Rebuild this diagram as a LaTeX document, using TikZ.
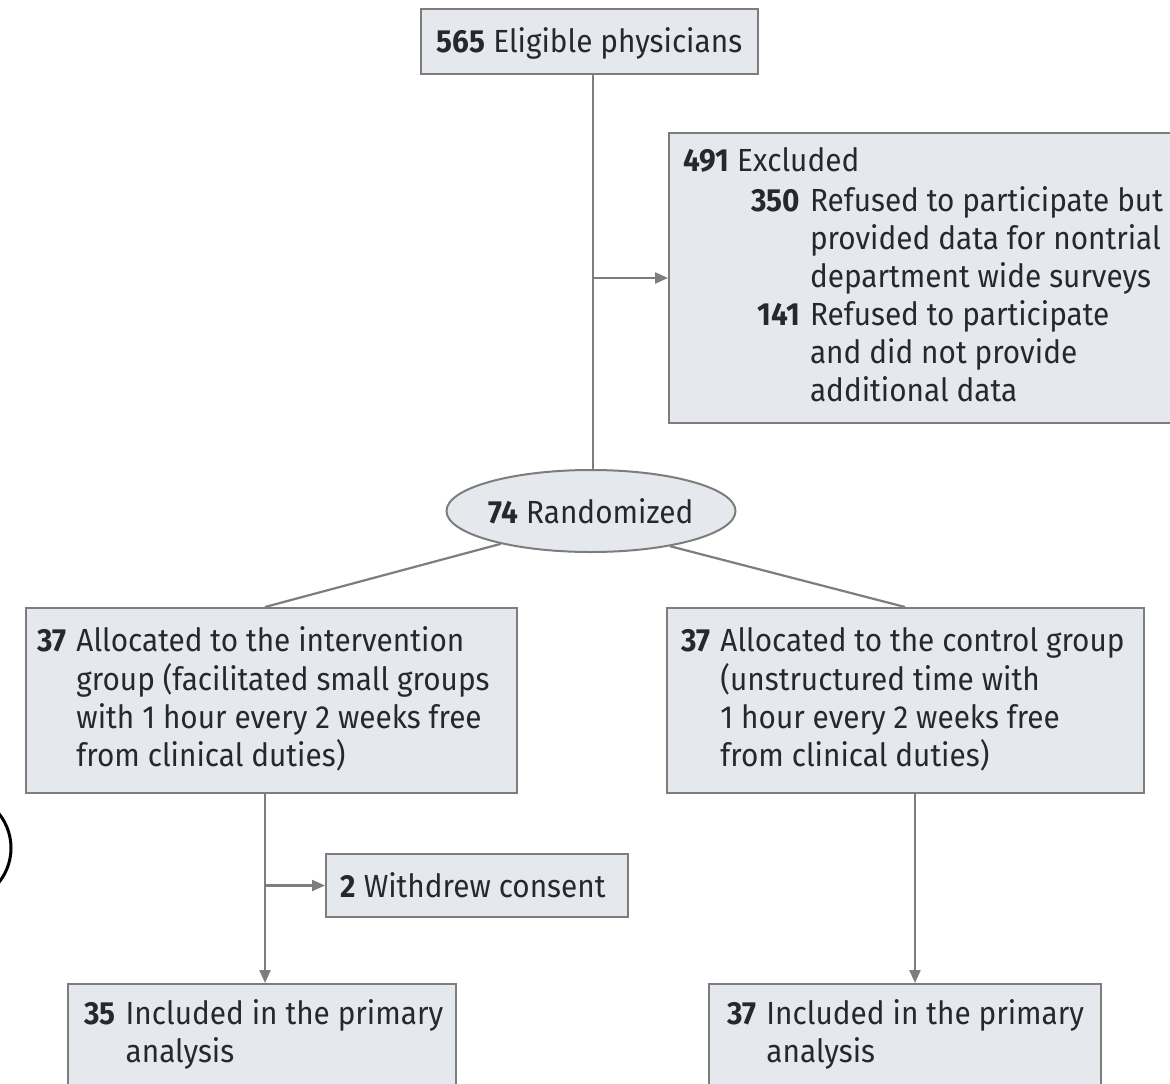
\documentclass[tikz,border=0pt]{standalone}
\usepackage{fontspec}
\setmainfont{Fira Sans}[FakeStretch=0.93]
\usetikzlibrary{shapes.geometric,arrows.meta}
\definecolor{boxfill}{RGB}{229,233,237}
\definecolor{boxline}{RGB}{125,125,125}
\definecolor{txt}{RGB}{38,40,46}
\newcommand{\hn}[1]{\textbf{#1}}
\begin{document}
\begin{tikzpicture}[x=1pt,y=-1pt,
  box/.style={draw=boxline,fill=boxfill,line width=2pt,anchor=north west,inner sep=0pt},
  conn/.style={draw=boxline,line width=2.2pt},
  arr/.style={conn,-{Triangle[length=13pt,width=11pt]}},
  lbl/.style={anchor=north west,inner sep=0pt,text=txt,font=\fontsize{32}{38}\selectfont,align=left}]
\useasboundingbox (0,0) rectangle (1170,1084);
\clip (0,0) rectangle (1170,1084);
\fill[white] (0,0) rectangle (1170,1084);
% stray arc on left edge
\draw[black,line width=3pt] (-44,848) circle (55);
% boxes
\node[box,minimum width=337pt,minimum height=65pt] (top) at (420,8) {};
\node[box,minimum width=503pt,minimum height=290pt] (ex) at (668,132) {};
\node[draw=boxline,fill=boxfill,line width=2pt,ellipse,minimum width=289pt,minimum height=82pt,inner sep=0pt] (ell) at (591,511) {};
\node[box,minimum width=491pt,minimum height=185pt] (lb) at (25,607) {};
\node[box,minimum width=477pt,minimum height=185pt] (rb) at (666,607) {};
\node[box,minimum width=302pt,minimum height=63pt] (wd) at (325,853) {};
\node[box,minimum width=388pt,minimum height=140pt] (bl) at (67,983) {};
\node[box,minimum width=392pt,minimum height=140pt] (br) at (708,983) {};
% coordinates for connector columns
\coordinate (cx) at (593,0);
\coordinate (lx) at (265,0);
\coordinate (rx) at (915,0);
\coordinate (rj) at (905,0);
% texts
\node[lbl,anchor=center] (ttop) at ([yshift=-2pt]top.center) {\hn{565} Eligible physicians};
\node[lbl] (tex1) at (683,147) {\hn{491} Excluded};
\node[lbl] (tex2) at (751,185) {\begin{tabular}{@{}r@{\hspace{10pt}}l@{}}\hn{350}&Refused to participate but\\&provided data for nontrial\\&department wide surveys\\\hn{141}&Refused to participate\\&and did not provide\\&additional data\end{tabular}};
\node[lbl,anchor=center] (tell) at (ell.center) {\hn{74} Randomized};
\node[lbl] (tlb) at (37,625) {\begin{tabular}{@{}r@{\hspace{10pt}}l@{}}\hn{37}&Allocated to the intervention\\&group (facilitated small groups\\&with 1 hour every 2 weeks free\\&from clinical duties)\end{tabular}};
\node[lbl] (trb) at (681,625) {\begin{tabular}{@{}r@{\hspace{10pt}}l@{}}\hn{37}&Allocated to the control group\\&(unstructured time with\\&1 hour every 2 weeks free\\&from clinical duties)\end{tabular}};
\node[lbl,anchor=center] (twd) at ([xshift=-4pt]wd.center) {\hn{2} Withdrew consent};
\node[lbl] (tbl) at (84,998) {\begin{tabular}{@{}r@{\hspace{10pt}}l@{}}\hn{35}&Included in the primary\\&analysis\end{tabular}};
\node[lbl] (tbr) at (727,998) {\begin{tabular}{@{}r@{\hspace{10pt}}l@{}}\hn{37}&Included in the primary\\&analysis\end{tabular}};
% connectors
\draw[conn] (top.south -| cx) -- (ell.north -| cx);
\draw[arr] (ex.west -| cx) -- (ex.west);
\draw[conn] (ell.200) -- (lb.north -| lx);
\draw[conn] (ell.336) -- (rb.north -| rj);
\draw[arr] (lb.south -| lx) -- (bl.north -| lx);
\draw[arr] (wd.west -| lx) -- (wd.west);
\draw[arr] (rb.south -| rx) -- (br.north -| rx);
\end{tikzpicture}
\end{document}
